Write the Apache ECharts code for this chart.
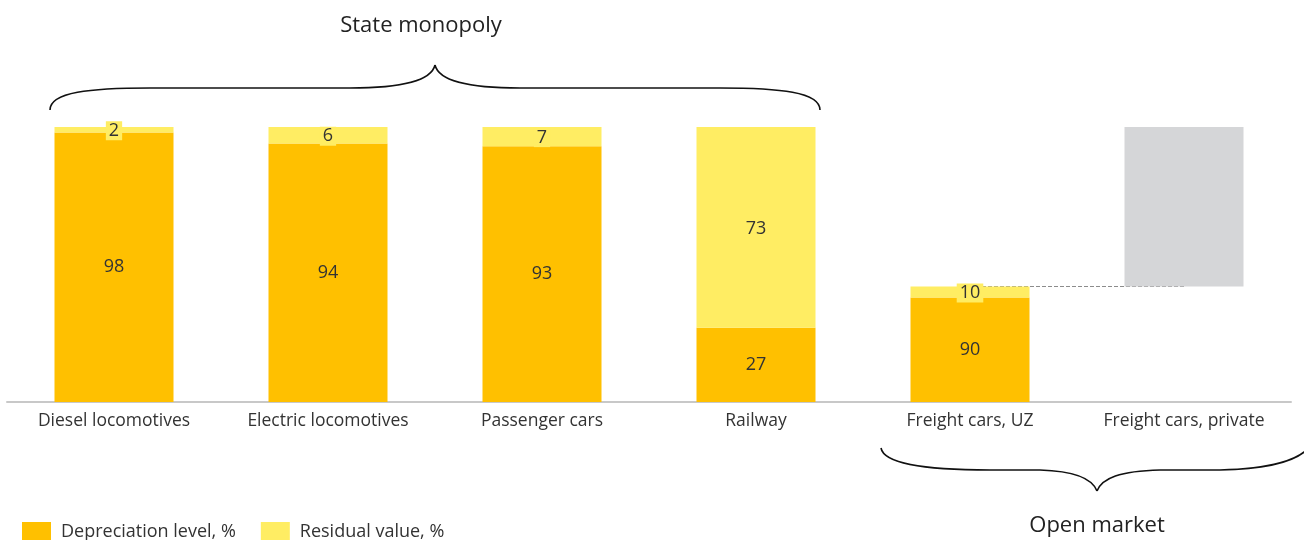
<!DOCTYPE html>
<html>
<head>
<meta charset="utf-8">
<script src="https://cdn.jsdelivr.net/npm/echarts@6/dist/echarts.min.js"></script>
<style>html,body{margin:0;padding:0;background:#fff}#c{width:1304px;height:540px}</style>
</head>
<body>
<div id="c"></div>
<script>
const categories = ['Diesel locomotives','Electric locomotives','Passenger cars','Railway','Freight cars, UZ','Freight cars, private'];
// labels shown (percent)
const depreciationLabels = [98, 94, 93, 27, 90, null];
const residualLabels = [2, 6, 7, 73, 10, null];
// drawn heights (freight UZ bar scaled to its ~42% share of the fleet)
const depreciationHeights = [98, 94, 93, 27, 38, null];
const residualHeights = [2, 6, 7, 73, 4, null];
const privateBase = [null, null, null, null, null, 42];
const privateShare = [null, null, null, null, null, 58];
const connector = [null, null, null, null, 42, 42];

const C_DEP = '#FFC000', C_RES = '#FFED63', C_GREY = '#D5D6D8';
const FONT = "'Open Sans', 'Noto Sans', sans-serif";
const BRACE = { stroke: '#111', lineWidth: 1.6, fill: null };

const chart = echarts.init(document.getElementById('c'));
chart.setOption({
  animation: false,
  grid: { left: 7, right: 13, top: 127, bottom: 138 },
  legend: {
    data: ['Depreciation level, %', 'Residual value, %'],
    left: 17, top: 517, itemWidth: 29, itemHeight: 20, itemGap: 25,
    icon: 'rect',
    textStyle: { fontFamily: FONT, fontSize: 18, color: '#333', padding: [0, 0, 0, 5] }
  },
  xAxis: {
    type: 'category', data: categories,
    axisLine: { lineStyle: { color: '#C8C8C8', width: 2 } },
    axisTick: { show: false },
    axisLabel: { fontFamily: FONT, fontSize: 17.5, color: '#333', margin: 10, interval: 0 }
  },
  yAxis: { type: 'value', min: 0, max: 100, show: false },
  series: [
    { name: 'conn', type: 'line', data: connector, symbol: 'none', silent: true, z: 1,
      lineStyle: { color: '#8C8C8C', width: 1, type: [4, 2] } },
    { name: 'Depreciation level, %', type: 'bar', stack: 's', barWidth: 119, z: 3,
      data: depreciationHeights, itemStyle: { color: C_DEP },
      label: { show: true, position: 'inside', fontFamily: FONT, fontSize: 18, color: '#333',
        formatter: p => depreciationLabels[p.dataIndex] } },
    { name: 'Residual value, %', type: 'bar', stack: 's', barWidth: 119, z: 3,
      data: residualHeights, itemStyle: { color: C_RES },
      label: { show: true, position: 'inside', fontFamily: FONT, fontSize: 18, color: '#333',
        backgroundColor: C_RES, padding: [1, 3, 0, 3], offset: [0, 1],
        formatter: p => residualLabels[p.dataIndex] } },
    { name: 'base', type: 'bar', stack: 'p', barWidth: 119, z: 3, silent: true,
      data: privateBase, itemStyle: { color: 'transparent' } },
    { name: 'private', type: 'bar', stack: 'p', barWidth: 119, z: 3, silent: true,
      data: privateShare, itemStyle: { color: C_GREY } }
  ],
  barGap: '-100%',
  graphic: [
    // top brace
    { type: 'bezierCurve', shape: { x1: 50, y1: 110, cpx1: 50, cpy1: 92, cpx2: 90, cpy2: 88, x2: 150, y2: 88 }, style: BRACE },
    { type: 'line', shape: { x1: 150, y1: 88, x2: 350, y2: 88 }, style: BRACE },
    { type: 'bezierCurve', shape: { x1: 350, y1: 88, cpx1: 410, cpy1: 88, cpx2: 432, cpy2: 78, x2: 435, y2: 65 }, style: BRACE },
    { type: 'bezierCurve', shape: { x1: 435, y1: 65, cpx1: 438, cpy1: 78, cpx2: 460, cpy2: 88, x2: 520, y2: 88 }, style: BRACE },
    { type: 'line', shape: { x1: 520, y1: 88, x2: 720, y2: 88 }, style: BRACE },
    { type: 'bezierCurve', shape: { x1: 720, y1: 88, cpx1: 780, cpy1: 88, cpx2: 820, cpy2: 92, x2: 820, y2: 110 }, style: BRACE },
    { type: 'text', style: { text: 'State monopoly', x: 421, y: 26, align: 'center', verticalAlign: 'middle', fontFamily: FONT, fontSize: 22, fill: '#222' } },
    // bottom brace
    { type: 'bezierCurve', shape: { x1: 881, y1: 448, cpx1: 884, cpy1: 465, cpx2: 930, cpy2: 470, x2: 990, y2: 470 }, style: BRACE },
    { type: 'line', shape: { x1: 990, y1: 470, x2: 1040, y2: 470 }, style: BRACE },
    { type: 'bezierCurve', shape: { x1: 1040, y1: 470, cpx1: 1075, cpy1: 471, cpx2: 1092, cpy2: 478, x2: 1097, y2: 491 }, style: BRACE },
    { type: 'bezierCurve', shape: { x1: 1097, y1: 491, cpx1: 1102, cpy1: 478, cpx2: 1120, cpy2: 471, x2: 1160, y2: 470 }, style: BRACE },
    { type: 'line', shape: { x1: 1160, y1: 470, x2: 1220, y2: 470 }, style: BRACE },
    { type: 'bezierCurve', shape: { x1: 1220, y1: 470, cpx1: 1270, cpy1: 469, cpx2: 1300, cpy2: 460, x2: 1310, y2: 446 }, style: BRACE },
    { type: 'text', style: { text: 'Open market', x: 1097, y: 526, align: 'center', verticalAlign: 'middle', fontFamily: FONT, fontSize: 22, fill: '#222' } }
  ]
});
</script>
</body>
</html>
